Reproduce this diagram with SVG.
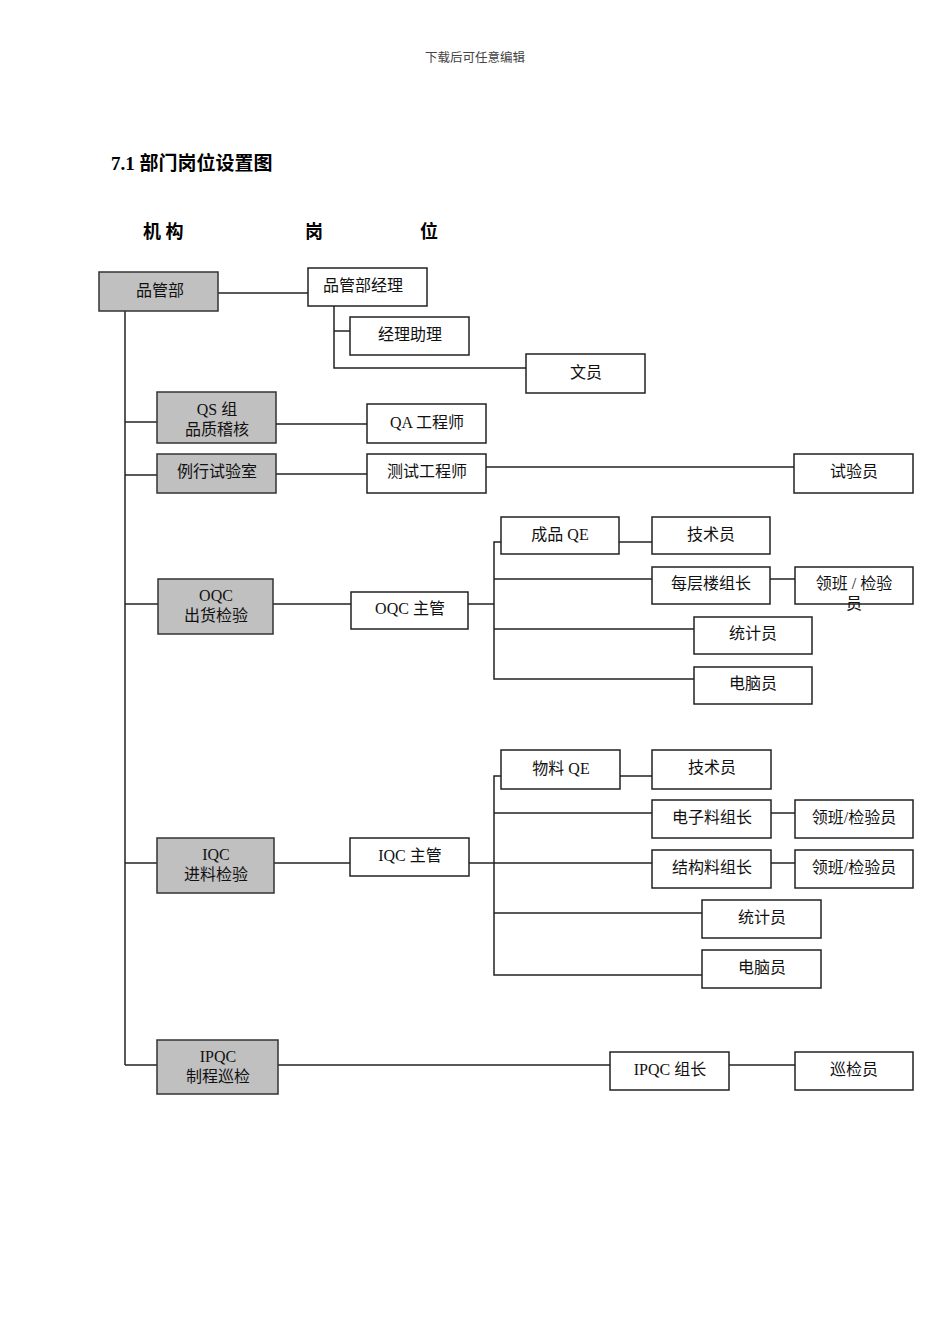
<svg xmlns="http://www.w3.org/2000/svg" width="950" height="1344" viewBox="0 0 950 1344">
<style>
.b{fill:#fff;stroke:#222;stroke-width:1.5}
.g{fill:#c0c0c0;stroke:#333;stroke-width:1.5}
.t{font-family:"Liberation Serif","Noto Sans CJK SC",serif;font-size:16px;fill:#111;text-anchor:middle}
.h{font-family:"Liberation Serif","Noto Sans CJK SC",serif;font-weight:bold;fill:#000}
#conn line,#conn polyline{stroke:#222;stroke-width:1.5;fill:none}
</style>
<rect width="950" height="1344" fill="#fff"/>
<text x="475" y="62" style="font-family:'Noto Sans CJK SC',sans-serif;font-size:12.5px;fill:#444;text-anchor:middle">下载后可任意编辑</text>
<text class="h" x="111" y="170" font-size="19">7.1 部门岗位设置图</text>
<text class="h" x="143" y="238" font-size="18">机 构</text>
<text class="h" x="305" y="238" font-size="18">岗</text>
<text class="h" x="420" y="238" font-size="18">位</text>
<g id="conn">
<line x1="125" y1="311" x2="125" y2="1065"/>
<line x1="218" y1="293" x2="308" y2="293"/>
<polyline points="334,306 334,368 526,368"/>
<line x1="334" y1="331" x2="350" y2="331"/>
<line x1="125" y1="422" x2="157" y2="422"/>
<line x1="276" y1="424" x2="367" y2="424"/>
<line x1="125" y1="475" x2="157" y2="475"/>
<line x1="276" y1="474" x2="367" y2="474"/>
<line x1="486" y1="467" x2="794" y2="467"/>
<line x1="125" y1="604" x2="158" y2="604"/>
<line x1="273" y1="604" x2="351" y2="604"/>
<line x1="468" y1="604" x2="494" y2="604"/>
<polyline points="501,542 494,542 494,679 694,679"/>
<line x1="619" y1="542" x2="652" y2="542"/>
<line x1="494" y1="579" x2="652" y2="579"/>
<line x1="770" y1="579" x2="795" y2="579"/>
<line x1="494" y1="629" x2="694" y2="629"/>
<line x1="125" y1="863" x2="157" y2="863"/>
<line x1="274" y1="863" x2="350" y2="863"/>
<line x1="469" y1="863" x2="652" y2="863"/>
<polyline points="501,776 494,776 494,975 702,975"/>
<line x1="620" y1="776" x2="652" y2="776"/>
<line x1="494" y1="813" x2="652" y2="813"/>
<line x1="771" y1="813" x2="795" y2="813"/>
<line x1="771" y1="863" x2="795" y2="863"/>
<line x1="494" y1="913" x2="702" y2="913"/>
<line x1="125" y1="1065" x2="157" y2="1065"/>
<line x1="278" y1="1065" x2="610" y2="1065"/>
<line x1="729" y1="1065" x2="795" y2="1065"/>
</g>
<g id="n-pgb"><rect class="g" x="99" y="272" width="119" height="39"/><text class="t" x="160" y="296">品管部</text></g>
<g id="n-pgbjl"><rect class="b" x="308" y="268" width="119" height="38"/><text class="t" x="363" y="291">品管部经理</text></g>
<g id="n-jlzl"><rect class="b" x="350" y="317" width="119" height="38"/><text class="t" x="410" y="340">经理助理</text></g>
<g id="n-wy"><rect class="b" x="526" y="354" width="119" height="39"/><text class="t" x="586" y="378">文员</text></g>
<g id="n-qs"><rect class="g" x="157" y="392" width="119" height="51"/><text class="t" x="217" y="415">QS 组</text><text class="t" x="217" y="435">品质稽核</text></g>
<g id="n-qa"><rect class="b" x="367" y="404" width="119" height="39"/><text class="t" x="427" y="428">QA 工程师</text></g>
<g id="n-lxsys"><rect class="g" x="157" y="454" width="119" height="39"/><text class="t" x="217" y="477">例行试验室</text></g>
<g id="n-csgcs"><rect class="b" x="367" y="454" width="119" height="39"/><text class="t" x="427" y="477">测试工程师</text></g>
<g id="n-syy"><rect class="b" x="794" y="454" width="119" height="39"/><text class="t" x="854" y="477">试验员</text></g>
<g id="n-oqc"><rect class="g" x="158" y="579" width="115" height="55"/><text class="t" x="216" y="601">OQC</text><text class="t" x="216" y="621">出货检验</text></g>
<g id="n-oqczg"><rect class="b" x="351" y="592" width="117" height="37"/><text class="t" x="410" y="614">OQC 主管</text></g>
<g id="n-cpqe"><rect class="b" x="501" y="517" width="118" height="37"/><text class="t" x="560" y="540">成品 QE</text></g>
<g id="n-jsy1"><rect class="b" x="652" y="517" width="118" height="37"/><text class="t" x="711" y="540">技术员</text></g>
<g id="n-mclzz"><rect class="b" x="652" y="567" width="118" height="37"/><text class="t" x="711" y="589">每层楼组长</text></g>
<g id="n-lb1"><rect class="b" x="795" y="567" width="118" height="37"/><text class="t" x="854" y="589">领班 / 检验</text><text class="t" x="854" y="609">员</text></g>
<g id="n-tjy1"><rect class="b" x="694" y="617" width="118" height="37"/><text class="t" x="753" y="639">统计员</text></g>
<g id="n-dny1"><rect class="b" x="694" y="667" width="118" height="37"/><text class="t" x="753" y="689">电脑员</text></g>
<g id="n-iqc"><rect class="g" x="157" y="838" width="117" height="55"/><text class="t" x="216" y="860">IQC</text><text class="t" x="216" y="880">进料检验</text></g>
<g id="n-iqczg"><rect class="b" x="350" y="838" width="119" height="38"/><text class="t" x="410" y="861">IQC 主管</text></g>
<g id="n-wlqe"><rect class="b" x="501" y="750" width="119" height="39"/><text class="t" x="561" y="774">物料 QE</text></g>
<g id="n-jsy2"><rect class="b" x="652" y="750" width="119" height="39"/><text class="t" x="712" y="773">技术员</text></g>
<g id="n-dzlzz"><rect class="b" x="652" y="800" width="119" height="38"/><text class="t" x="712" y="823">电子料组长</text></g>
<g id="n-lb2"><rect class="b" x="795" y="800" width="118" height="38"/><text class="t" x="854" y="823">领班/检验员</text></g>
<g id="n-jglzz"><rect class="b" x="652" y="850" width="119" height="38"/><text class="t" x="712" y="873">结构料组长</text></g>
<g id="n-lb3"><rect class="b" x="795" y="850" width="118" height="38"/><text class="t" x="854" y="873">领班/检验员</text></g>
<g id="n-tjy2"><rect class="b" x="702" y="900" width="119" height="38"/><text class="t" x="762" y="923">统计员</text></g>
<g id="n-dny2"><rect class="b" x="702" y="950" width="119" height="38"/><text class="t" x="762" y="973">电脑员</text></g>
<g id="n-ipqc"><rect class="g" x="157" y="1040" width="121" height="54"/><text class="t" x="218" y="1062">IPQC</text><text class="t" x="218" y="1082">制程巡检</text></g>
<g id="n-ipqczz"><rect class="b" x="610" y="1052" width="119" height="38"/><text class="t" x="670" y="1075">IPQC 组长</text></g>
<g id="n-xjy"><rect class="b" x="795" y="1052" width="118" height="38"/><text class="t" x="854" y="1075">巡检员</text></g>
</svg>
